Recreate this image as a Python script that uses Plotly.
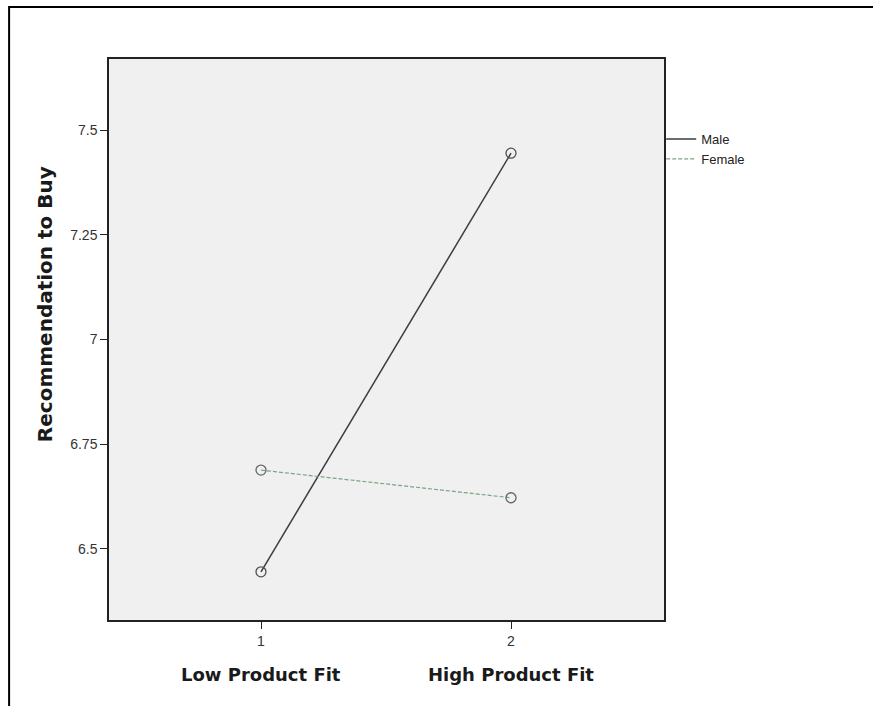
import plotly.graph_objects as go

# Data
x_levels = [1, 2]
male = [6.445, 7.445]
female = [6.688, 6.622]
y_tickvals = [6.5, 6.75, 7.0, 7.25, 7.5]
y_ticktext = ["6.5", "6.75", "7", "7.25", "7.5"]
x_ticktext = ["1", "2"]
x_group_labels = ["Low Product Fit", "High Product Fit"]
series_names = ["Male", "Female"]
y_title = "Recommendation to Buy"

male_line = dict(color="#3c3c3c", width=1.5)
female_line = dict(color="#7aa585", width=1.2, dash="4px,2px")

fig = go.Figure()
fig.add_trace(go.Scatter(
    x=x_levels, y=male, name=series_names[0], mode="lines+markers", showlegend=False,
    line=male_line,
    marker=dict(symbol="circle-open", size=10, color="#505050", line=dict(width=1.3)),
))
fig.add_trace(go.Scatter(
    x=x_levels, y=female, name=series_names[1], mode="lines+markers", showlegend=False,
    line=female_line,
    marker=dict(symbol="circle-open", size=10, color="#666666", line=dict(width=1.3)),
))
# legend entries (lines only, as in the reference)
fig.add_trace(go.Scatter(x=[None], y=[None], name=series_names[0], mode="lines", line=male_line))
fig.add_trace(go.Scatter(x=[None], y=[None], name=series_names[1], mode="lines", line=female_line))

for xv, lab in zip(x_levels, x_group_labels):
    fig.add_annotation(x=xv, xref="x", y=-0.098, yref="paper", text="<b>%s</b>" % lab,
                       showarrow=False, font=dict(family="DejaVu Sans", size=18, color="#1a1a1a"),
                       xanchor="center", yanchor="middle")

fig.add_annotation(x=-0.1153, xref="paper", y=0.563, yref="paper", text="<b>%s</b>" % y_title,
                   textangle=-90, showarrow=False,
                   font=dict(family="DejaVu Sans", size=20, color="#1a1a1a"),
                   xanchor="center", yanchor="middle")

# outer frame
fig.add_shape(type="rect", xref="paper", yref="paper", x0=-0.18, y0=-0.3, x1=1.6, y1=1.0927,
              line=dict(color="black", width=2), fillcolor="rgba(0,0,0,0)", layer="below")

fig.update_layout(
    width=873, height=706,
    margin=dict(l=109, r=209, t=59, b=86),
    paper_bgcolor="white",
    plot_bgcolor="#f0f0f0",
    font=dict(family="Arial, Liberation Sans", size=14, color="#333"),
    showlegend=True,
    legend=dict(x=0.995, y=0.884, xanchor="left", yanchor="top", bgcolor="rgba(0,0,0,0)",
                font=dict(size=13, color="#222"), itemwidth=30, tracegroupgap=0),
    xaxis=dict(range=[0.392, 2.612], tickvals=x_levels, ticktext=x_ticktext,
               showgrid=False, zeroline=False, showline=True, linecolor="#222", linewidth=1.5,
               mirror=True, ticks="outside", ticklen=7, tickcolor="#222", tickfont=dict(size=14)),
    yaxis=dict(range=[6.33, 7.67], tickvals=y_tickvals, ticktext=y_ticktext,
               showgrid=False, zeroline=False, showline=True, linecolor="#222", linewidth=1.5,
               mirror=True, ticks="outside", ticklen=7, tickcolor="#222", tickfont=dict(size=14)),
)

fig.write_html("out.html")
